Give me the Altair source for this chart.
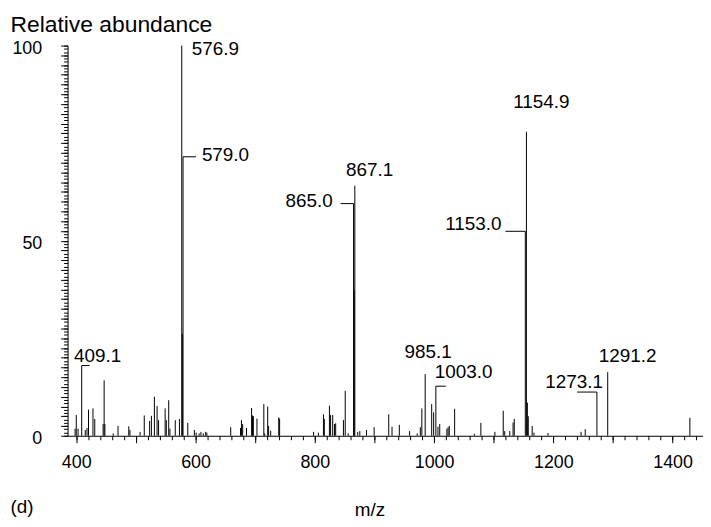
import altair as alt
import pandas as pd

FONT = "Liberation Sans"

# ---- spectrum peaks (m/z, relative abundance) ----
mz_values = [398, 400, 403, 409.1, 415, 418, 420.5, 428, 431, 445, 446.7, 448,
             462, 470, 488, 490, 507, 514, 523, 526, 531, 535.5, 538, 549, 551,
             555, 557, 566, 573, 576.9, 577.9, 579.0, 587, 598, 601, 606, 609,
             613, 617, 619, 659, 675.5, 677, 679, 685.5, 694, 695.5, 697, 703,
             714.5, 716, 721, 722.5, 726, 739.5, 741, 798, 806, 814.5, 816,
             824.5, 826.5, 830, 833, 835, 848, 851, 856, 865.0, 866, 867.1, 872,
             875.5, 886.7, 899.5, 924, 929.5, 941.7, 959, 971.7, 977, 979.5,
             985.1, 996, 999.3, 1003.0, 1006.5, 1009.5, 1021.5, 1023.5, 1025.5,
             1034.5, 1067.5, 1078.5, 1102, 1116, 1118.5, 1127, 1132.5, 1134.5,
             1153.0, 1154.9, 1156.5, 1158, 1164.5, 1167.5, 1191, 1246.5, 1253.5,
             1273.1, 1291.2, 1429]
abundance = [1.8, 5.3, 1.8, 18.0, 1.5, 2.0, 6.7, 7.0, 4.3, 3.0, 14.2, 3.0,
             0.6, 2.5, 2.4, 1.5, 1.0, 5.2, 3.8, 5.1, 10.0, 7.6, 4.0, 7.0, 4.0,
             9.1, 1.8, 4.0, 4.3, 100, 26, 71.5, 3.3, 1.5, 0.8, 0.6, 1.0,
             0.6, 1.0, 0.8, 2.2, 2.0, 4.0, 3.0, 2.0, 7.1, 5.2, 5.0, 4.4,
             8.1, 0.6, 7.5, 2.5, 1.3, 4.7, 4.4, 1.0, 0.8, 5.5, 4.3,
             7.7, 5.3, 5.3, 3.0, 3.2, 4.0, 11.5, 0.6, 59.5, 37.4, 64.1, 1.0,
             1.2, 1.5, 2.2, 5.5, 2.3, 2.8, 1.2, 0.6, 2.2, 7.0,
             15.8, 8.1, 6.0, 12.7, 2.3, 3.0, 1.8, 2.2, 2.5,
             6.9, 0.5, 3.3, 1.0, 6.4, 1.2, 1.2, 3.4, 4.3,
             52.4, 77.9, 8.5, 5.0, 2.5, 0.8, 0.7, 1.0, 1.7,
             11.2, 16.3, 4.6]

# ---- annotated peaks ----
label_mz = [409.1, 576.9, 579.0, 865.0, 867.1, 985.1, 1003.0, 1153.0, 1154.9, 1273.1, 1291.2]
label_top = [18.0, 100, 71.5, 59.5, 64.1, 15.8, 12.7, 52.4, 77.9, 11.2, 16.3]
label_text = ["409.1", "576.9", "579.0", "865.0", "867.1", "985.1", "1003.0",
              "1153.0", "1154.9", "1273.1", "1291.2"]

x_tick_labels = [400, 600, 800, 1000, 1200, 1400]

spec = pd.DataFrame({"mz": mz_values, "abundance": abundance})
labels = pd.DataFrame({"mz": label_mz, "top": label_top, "label": label_text})

# label placement: (align, dx, dy, hook length in px or 0)
placement = {
    "409.1": ("center", 16, -10, 8),
    "576.9": ("left", 10, 3, 0),
    "579.0": ("left", 19, -2, 13),
    "865.0": ("right", -21, -3, -13),
    "867.1": ("center", 15, -16, 0),
    "985.1": ("center", 3, -22, 0),
    "1003.0": ("left", -1, -14, 10),
    "1153.0": ("right", -24, -7, -20),
    "1154.9": ("center", 15, -30, 0),
    "1273.1": ("right", 6, -10, -20),
    "1291.2": ("center", 20, -16, 0),
}

W, H = 640, 393
x_scale = alt.Scale(domain=[385.4, 385.4 + W / 0.6006], nice=False, zero=False)
y_scale = alt.Scale(domain=[0, 100], nice=False)

x_axis_major = alt.Axis(
    orient="bottom", values=list(range(400, 1451, 100)), format="d",
    labelExpr="datum.value % 200 == 0 ? datum.label : ''",
    tickSize=7, labelPadding=11, labelFontSize=18, labelFont=FONT,
    labelColor="black", labelFlush=False, labelOverlap=False, grid=False,
    domainColor="black", tickColor="black",
    title="m/z", titleX=304, titleY=80, titleAlign="center",
    titleBaseline="alphabetic", titleFontSize=19, titleFontWeight="normal",
    titleFont=FONT, titleColor="black")
x_axis_minor = alt.Axis(
    orient="bottom", values=list(range(400, 1451, 20)), labels=False,
    tickSize=4, domain=False, grid=False, tickColor="black",
    title="(d)", titleX=-58, titleY=77, titleAlign="left",
    titleBaseline="alphabetic", titleFontSize=19, titleFontWeight="normal",
    titleFont=FONT, titleColor="black")
y_axis_major = alt.Axis(
    orient="left", values=[i * 2.5 for i in range(41)],
    labelExpr="datum.value % 50 == 0 ? datum.label : ''",
    tickSize=7, labelPadding=19, labelFontSize=18, labelFont=FONT,
    labelColor="black", labelFlush=False, labelOverlap=False, labelOffset=3,
    grid=False, domainColor="black", tickColor="black",
    title="Relative abundance", titleAngle=0, titleX=-58, titleY=-14,
    titleAlign="left", titleBaseline="alphabetic", titleFontSize=23,
    titleFontWeight="normal", titleFont=FONT, titleColor="black")
y_axis_minor = alt.Axis(
    orient="left", values=[i * 2.5 / 3 for i in range(121)], labels=False,
    tickSize=4, domain=False, grid=False, tickColor="black", title="")

peaks = alt.Chart(spec).mark_rule(color="black", strokeWidth=1).encode(
    x=alt.X("mz:Q", scale=x_scale, axis=x_axis_major),
    y=alt.Y("abundance:Q", scale=y_scale, axis=y_axis_major),
    y2=alt.datum(0),
)
minor = alt.Chart(spec).mark_rule(opacity=0).encode(
    x=alt.X("mz:Q", scale=x_scale, axis=x_axis_minor),
    y=alt.Y("abundance:Q", scale=y_scale, axis=y_axis_minor),
)

layers = [peaks, minor]
for lab, (align, dx, dy, hook) in placement.items():
    base = alt.Chart(labels).transform_filter(alt.datum.label == lab)
    layers.append(
        base.mark_text(align=align, baseline="middle", dx=dx, dy=dy,
                       fontSize=19, font=FONT, color="black").encode(
            x=alt.X("mz:Q", scale=x_scale, axis=None),
            y=alt.Y("top:Q", scale=y_scale, axis=None),
            text="label:N",
        )
    )
    if hook != 0:
        layers.append(
            base.mark_rule(color="black", strokeWidth=1, x2Offset=hook).encode(
                x=alt.X("mz:Q", scale=x_scale, axis=None),
                x2=alt.X2("mz:Q"),
                y=alt.Y("top:Q", scale=y_scale, axis=None),
            )
        )

chart = alt.layer(*layers).resolve_axis(x="independent", y="independent").properties(
    width=W, height=H,
    padding={"left": 60, "top": 36, "right": 0, "bottom": 82},
    autosize=alt.AutoSizeParams(type="none"),
    background="white",
).configure_view(stroke=None)

chart.save("out.html", embed_options={"renderer": "svg", "actions": False})
